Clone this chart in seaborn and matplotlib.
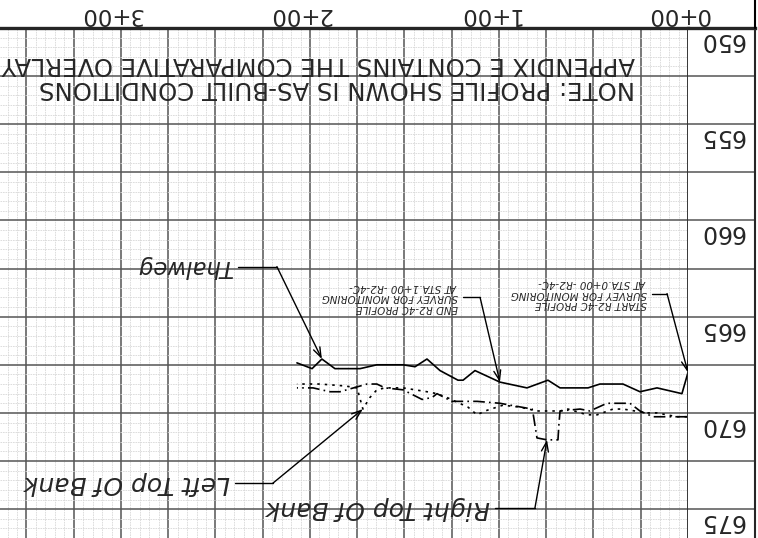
import matplotlib
matplotlib.use("Agg")
import matplotlib.pyplot as plt
from matplotlib.lines import Line2D
import matplotlib.transforms as mtransforms
import numpy as np
import pandas as pd
import seaborn as sns

thalweg_sta = [0, 3.2, 16.4, 25.4, 34.4, 46.6, 52.9, 67.7, 74.1, 85.2, 99.5, 112.7,
               119.0, 121.7, 131.2, 138.1, 144.4, 150.8, 164.6, 173.5, 186.8, 193.7, 198.9, 206.9]
thalweg_elev = [667.9, 669.0, 668.7, 668.9, 668.5, 668.5, 668.7, 668.7, 668.3, 668.7, 668.4, 667.8,
                668.3, 668.3, 667.8, 667.2, 667.6, 667.5, 667.5, 667.7, 667.7, 667.2, 667.7, 667.4]

left_sta = [0.5, 5.8, 16.4, 21.7, 34.4, 39.7, 48.1, 53.4, 63.5, 67.7, 79.9, 88.9, 97.9, 107.4,
            111.6, 116.4, 127.5, 132.8, 138.1, 144.4, 150.8, 160.3, 164.6, 168.3, 172.0, 175.1,
            181.5, 194.7, 206.9]
left_elev = [670.2, 670.2, 670.0, 670.0, 669.8, 669.8, 670.1, 670.1, 669.8, 669.9, 669.9, 669.7,
             669.6, 669.9, 670.1, 669.7, 669.2, 669.0, 668.9, 668.8, 668.7, 668.7, 668.8, 669.2,
             669.8, 668.7, 668.6, 668.5, 668.5]

right_sta = [0.5, 18.5, 25.4, 30.7, 42.9, 51.9, 57.1, 67.7, 68.3, 68.8, 74.6, 79.9, 82.0, 82.5,
             99.5, 111.6, 119.0, 124.9, 132.8, 135.4, 140.7, 150.8, 160.3, 164.6, 169.8, 184.1,
             189.4, 198.4, 206.9]
right_elev = [670.2, 670.2, 669.9, 669.5, 669.5, 669.9, 669.8, 669.9, 670.6, 671.4, 671.4, 671.3,
              670.0, 669.8, 669.5, 669.4, 669.4, 669.4, 669.0, 669.2, 669.3, 668.8, 668.7, 668.5,
              668.5, 668.9, 668.9, 668.7, 668.7]

station_ticks = [0, 100, 200, 300]
station_labels = ["0+00", "1+00", "2+00", "3+00"]
elev_ticks = [650, 655, 660, 665, 670, 675]

note_lines = ["NOTE: PROFILE SHOWN IS AS-BUILT CONDITIONS",
              "APPENDIX E CONTAINS THE COMPARATIVE OVERLAY"]
end_note = "END R2-4C PROFILE\nSURVEY FOR MONITORING\nAT STA.1+00 -R2-4C-"
start_note = "START R2-4C PROFILE\nSURVEY FOR MONITORING\nAT STA.0+00 -R2-4C-"

df = pd.concat([
    pd.DataFrame({"station": thalweg_sta, "elevation": thalweg_elev, "line": "Thalweg"}),
    pd.DataFrame({"station": left_sta, "elevation": left_elev, "line": "Left Top Of Bank"}),
    pd.DataFrame({"station": right_sta, "elevation": right_elev, "line": "Right Top Of Bank"}),
])

sns.set_style("white")
plt.rcParams["font.family"] = ["DejaVu Sans"]

W, H = 758, 538
fig = plt.figure(figsize=(W / 100, H / 100), dpi=100)
fig.patch.set_facecolor("white")

# sheet is drawn rotated 180 degrees: stations run right-to-left, elevations top-to-bottom
ax = fig.add_axes([0, 0, 688 / W, 510 / H])
ax2 = fig.add_axes([688 / W, 0, 67 / W, 510 / H])

sns.lineplot(data=df, x="station", y="elevation", hue="line", style="line",
             palette={"Thalweg": "black", "Left Top Of Bank": "black", "Right Top Of Bank": "black"},
             dashes={"Thalweg": "", "Left Top Of Bank": (1.5, 3), "Right Top Of Bank": (7, 2.5, 1, 2.5)},
             estimator=None, sort=False, legend=False, lw=1.2, ax=ax)

ax.set_xticks(np.arange(0, 376, 25))
ax.set_xticks(np.arange(0, 376, 5), minor=True)
ax.set_yticks(np.arange(650, 677, 2.5))
ax.set_yticks(np.arange(650, 677, 0.5), minor=True)
ax.set_xlim(364, 0)
ax.set_ylim(676.5, 650)
ax.grid(which="minor", color="#d8d8d8", lw=0.6, ls=(0, (2, 1)))
ax.grid(which="major", color="#555555", lw=1.1)
ax.set_axisbelow(True)
ax.tick_params(which="both", length=0, labelbottom=False, labelleft=False)
ax.set_xlabel("")
ax.set_ylabel("")
for side in ["left", "bottom"]:
    ax.spines[side].set_visible(False)
ax.spines["top"].set_linewidth(2.4)
ax.spines["right"].set_linewidth(1.8)

# label column on the right
ax2.set_yticks(np.arange(650, 677, 2.5))
ax2.set_xlim(0, 1)
ax2.set_ylim(676.5, 650)
ax2.grid(axis="y", color="#555555", lw=1.1)
ax2.tick_params(length=0, labelbottom=False, labelleft=False)
for side in ["left", "bottom"]:
    ax2.spines[side].set_visible(False)
ax2.spines["top"].set_linewidth(2.4)
ax2.spines["right"].set_linewidth(1.5)
fig.add_artist(Line2D([755 / W, 755 / W], [510 / H, 1], color="black", lw=1.5))

for e in elev_ticks:
    ax2.text(0.5, e + 0.62, str(e), rotation=180, ha="center", va="center", fontsize=17)

top = mtransforms.blended_transform_factory(ax.transData, fig.transFigure)
for s, lab in zip(station_ticks, station_labels):
    ax.text(s + 5.3, 1 - 14 / H, lab, transform=top, rotation=180, ha="center", va="center",
            fontsize=16.5, clip_on=False)

ax.text(28, 651.85, note_lines[1], rotation=180, ha="right", va="center", fontsize=17.6)
ax.text(28, 653.1, note_lines[0], rotation=180, ha="right", va="center", fontsize=17.6)


def point(sta, elev, s):
    i = int(np.argmin(np.abs(np.asarray(sta) - s)))
    return sta[i], elev[i]


def leader(text, tx, ty, x_end, target, size, style="italic", **kw):
    ax.text(tx, ty, text, rotation=180, ha="right", va="center", fontsize=size,
            fontstyle=style, **kw)
    ax.plot([tx - 2.5, x_end], [ty, ty], color="black", lw=1.0)
    ax.annotate("", xy=target, xytext=(x_end, ty),
                arrowprops=dict(arrowstyle="->,head_length=0.7,head_width=0.25",
                                color="black", lw=1.0, shrinkA=0, shrinkB=0))


leader("Thalweg", 240.7, 662.4, 217.5, point(thalweg_sta, thalweg_elev, 193.7), 16.5)
leader(end_note, 121.7, 664.0, 110.0, point(thalweg_sta, thalweg_elev, 99.5), 7.4,
       linespacing=1.05, multialignment="left")
leader(start_note, 21.7, 663.8, 11.1, point(thalweg_sta, thalweg_elev, 0), 7.4,
       linespacing=1.05, multialignment="left")
leader("Left Top Of Bank", 242.3, 673.65, 219.6, point(left_sta, left_elev, 172.0), 18)
leader("Right Top Of Bank", 104.8, 674.95, 81.0, point(right_sta, right_elev, 74.6), 18)

fig.savefig("out.png", dpi=100, facecolor="white")
